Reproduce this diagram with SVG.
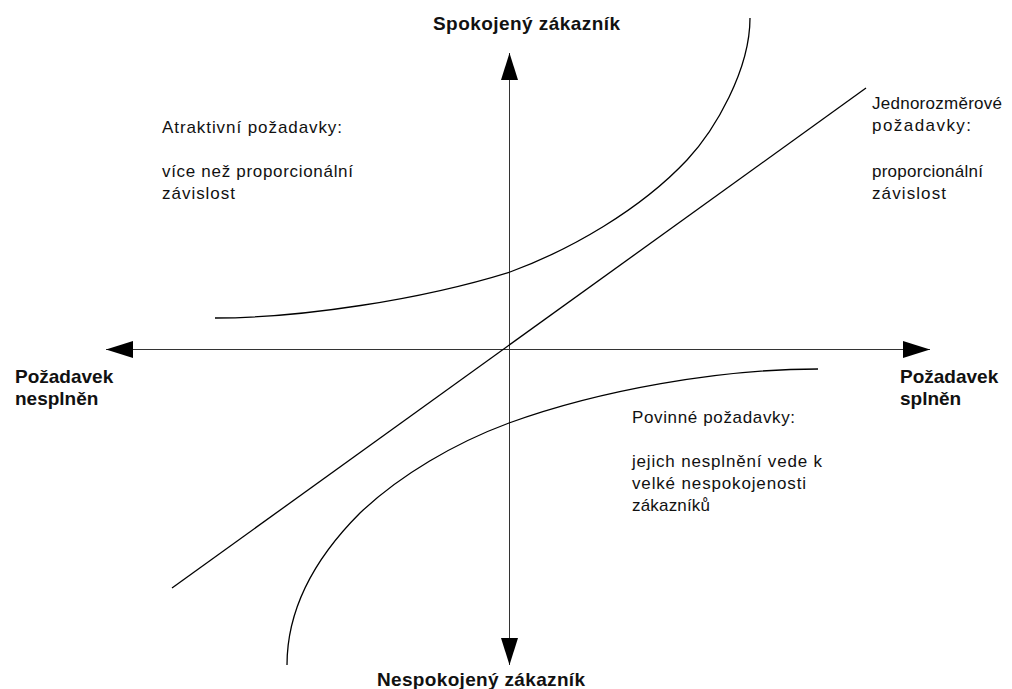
<svg xmlns="http://www.w3.org/2000/svg" width="1012" height="689" viewBox="0 0 1012 689">
  <style>
    .axis { stroke: #333; stroke-width: 1; fill: none; }
    .curve { stroke: #000; stroke-width: 1.3; fill: none; }
    .bold { font-family: "Liberation Sans", Arial, sans-serif; font-weight: bold; font-size: 19px; fill: #111; }
    .note { font-family: "Liberation Sans", Arial, sans-serif; font-size: 17px; fill: #111; }
  </style>
  <defs>
    <marker id="arrowhead" viewBox="0 0 27 17" markerWidth="27" markerHeight="17" refX="27" refY="8.5" orient="auto-start-reverse" markerUnits="userSpaceOnUse">
      <path d="M0,0 L27,8.5 L0,17 Z" fill="#000"/>
    </marker>
  </defs>
  <rect width="1012" height="689" fill="#fff"/>

  <!-- axes -->
  <g id="connectors">
    <line class="axis" x1="509.5" y1="53" x2="509.5" y2="665" marker-start="url(#arrowhead)" marker-end="url(#arrowhead)"/>
    <line class="axis" x1="106" y1="349.5" x2="930" y2="349.5" marker-start="url(#arrowhead)" marker-end="url(#arrowhead)"/>
  </g>

  <!-- characteristic curves -->
  <g id="curves">
    <path id="attractive-curve" class="curve" d="M215,318 C300,318 420,300 510,272 C570,250 640,210 687,160 C715,130 750,70 750,18"/>
    <line id="one-dimensional-line" class="curve" x1="172" y1="588" x2="866" y2="88"/>
    <path id="must-be-curve" class="curve" d="M818,369 C720,369 600,390 509,423 C455,443 400,475 360,513 C325,548 287,600 287,665"/>
  </g>

  <!-- axis labels -->
  <g id="label-satisfied">
    <text class="bold" x="433" y="30" textLength="187" lengthAdjust="spacing">Spokojený zákazník</text>
  </g>
  <g id="label-dissatisfied">
    <text class="bold" x="377" y="686" textLength="208" lengthAdjust="spacing">Nespokojený zákazník</text>
  </g>
  <g id="label-not-fulfilled">
    <text class="bold" x="15" y="383">Požadavek</text>
    <text class="bold" x="15" y="405">nesplněn</text>
  </g>
  <g id="label-fulfilled">
    <text class="bold" x="900" y="383">Požadavek</text>
    <text class="bold" x="900" y="405">splněn</text>
  </g>

  <!-- requirement descriptions -->
  <g id="note-attractive">
    <text class="note" x="162" y="133" textLength="180" lengthAdjust="spacing">Atraktivní požadavky:</text>
    <text class="note" x="162" y="177" textLength="191" lengthAdjust="spacing">více než proporcionální</text>
    <text class="note" x="162" y="199" textLength="73" lengthAdjust="spacing">závislost</text>
  </g>
  <g id="note-one-dimensional">
    <text class="note" x="872" y="109" textLength="130" lengthAdjust="spacing">Jednorozměrové</text>
    <text class="note" x="872" y="131" textLength="99" lengthAdjust="spacing">požadavky:</text>
    <text class="note" x="872" y="177" textLength="111" lengthAdjust="spacing">proporcionální</text>
    <text class="note" x="872" y="199" textLength="74" lengthAdjust="spacing">závislost</text>
  </g>
  <g id="note-must-be">
    <text class="note" x="632" y="423" textLength="163" lengthAdjust="spacing">Povinné požadavky:</text>
    <text class="note" x="632" y="467" textLength="190" lengthAdjust="spacing">jejich nesplnění vede k</text>
    <text class="note" x="632" y="489" textLength="174" lengthAdjust="spacing">velké nespokojenosti</text>
    <text class="note" x="632" y="511" textLength="78" lengthAdjust="spacing">zákazníků</text>
  </g>
</svg>
